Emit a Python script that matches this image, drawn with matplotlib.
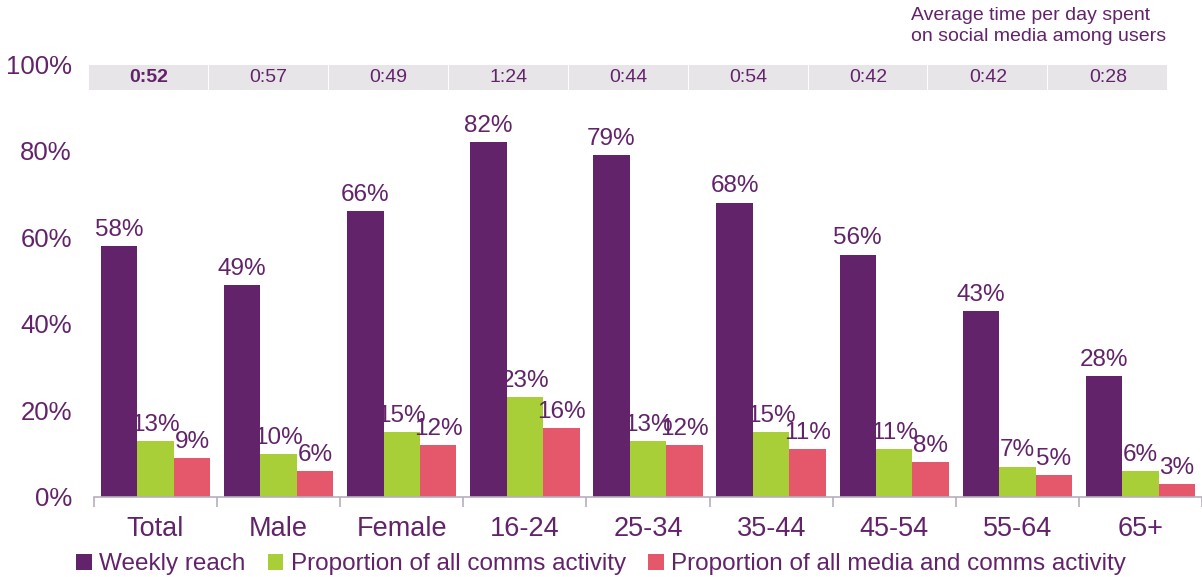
import numpy as np
import matplotlib
matplotlib.use("Agg")
import matplotlib.pyplot as plt
from matplotlib.patches import Patch, Rectangle

plt.rcParams['font.family'] = ['Liberation Sans', 'DejaVu Sans']

categories = ['Total', 'Male', 'Female', '16-24', '25-34', '35-44', '45-54', '55-64', '65+']
weekly_reach = [58, 49, 66, 82, 79, 68, 56, 43, 28]
comms_share = [13, 10, 15, 23, 13, 15, 11, 7, 6]
media_comms_share = [9, 6, 12, 16, 12, 11, 8, 5, 3]
avg_time = ['0:52', '0:57', '0:49', '1:24', '0:44', '0:54', '0:42', '0:42', '0:28']

series_names = ['Weekly reach', 'Proportion of all comms activity',
                'Proportion of all media and comms activity']
colors = ['#62236A', '#A8CE38', '#E5576A']
TEXT = '#62236A'

fig = plt.figure(figsize=(12.02, 5.77), dpi=100)
ax = fig.add_axes([94 / 1202, 1 - 497 / 577, 1 - 94 / 1202, (497 - 64) / 577])

x = np.arange(len(categories))
w = 0.296
for k, vals in enumerate([weekly_reach, comms_share, media_comms_share]):
    pos = x + (k - 1) * w
    ax.bar(pos, vals, width=w, color=colors[k], edgecolor='none')
    for p, v in zip(pos, vals):
        ax.text(p, v + 1.2, f'{v}%', ha='center', va='bottom', fontsize=17.5, color=TEXT)

# header strip with average time per day
for i, t in enumerate(avg_time):
    x0 = -0.54 + i * 0.974
    ax.add_patch(Rectangle((x0, 94.0), 0.966, 5.8, facecolor='#E8E5E9',
                           edgecolor='none', clip_on=False))
    ax.text(x0 + 0.483, 96.9, t, ha='center', va='center', fontsize=14,
            color=TEXT, fontweight='bold' if i == 0 else 'normal')

ax.set_xlim(-0.5, len(categories) - 0.5)
ax.set_ylim(0, 100)
ax.set_yticks(range(0, 101, 20))
ax.set_yticklabels([f'{v}%' for v in range(0, 101, 20)])
ax.set_xticks(x)
ax.set_xticklabels(categories)
ax.set_xticks(np.arange(-0.5, len(categories), 1), minor=True)
ax.tick_params(axis='x', which='major', length=0, pad=14, labelsize=19.5, labelcolor=TEXT)
ax.tick_params(axis='x', which='minor', length=7, color='#B8AEBE', width=1.2)
ax.tick_params(axis='y', length=0, pad=16, labelsize=18.5, labelcolor=TEXT)
for s in ['top', 'right', 'left']:
    ax.spines[s].set_visible(False)
ax.spines['bottom'].set_color('#B8AEBE')
ax.spines['bottom'].set_linewidth(1.2)

fig.text(911 / 1202, 1 - 7 / 577, 'Average time per day spent\non social media among users',
         ha='left', va='top', fontsize=14, color=TEXT, linespacing=1.3)

handles = [Patch(facecolor=c, edgecolor='none') for c in colors]
leg = fig.legend(handles, series_names, loc='lower center', bbox_to_anchor=(0.5, -0.035),
                 ncol=3, frameon=False, fontsize=17.5, handlelength=0.65, handleheight=0.65,
                 handletextpad=0.3, columnspacing=0.9)
for t in leg.get_texts():
    t.set_color(TEXT)

fig.savefig('out.png', dpi=100)
